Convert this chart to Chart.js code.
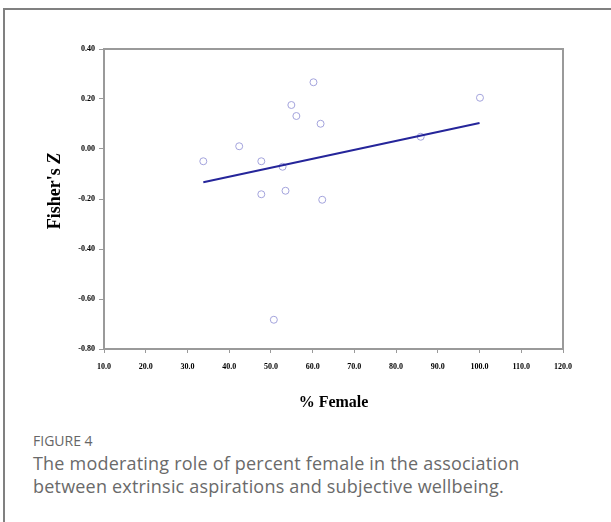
<!DOCTYPE html>
<html>
<head>
<meta charset="utf-8">
<script src="https://cdn.jsdelivr.net/npm/chart.js@4.4.1/dist/chart.umd.min.js"></script>
<style>
  body { margin: 0; background: #fff; width: 611px; height: 522px; overflow: hidden; position: relative; }
  .frame { position: absolute; left: 3px; top: 8px; right: -10px; bottom: -10px;
           border-top: 2px solid #808080; border-left: 2px solid #808080; }
  #wrap { position: absolute; left: 0; top: 0; width: 611px; height: 420px; }
  .cap { position: absolute; left: 33px; top: 430px; font-family: "Open Sans", sans-serif; color: #6a6a6a; }
  .cap .fig { font-size: 14px; color: #666; line-height: 22px; }
  .cap .txt { font-size: 18px; line-height: 23px; letter-spacing: 0.2px; }
</style>
</head>
<body>
<div class="frame"></div>
<div id="wrap"><canvas id="chart" width="611" height="420"></canvas></div>
<div class="cap">
  <div class="fig">FIGURE 4</div>
  <div class="txt">The moderating role of percent female in the association<br>between extrinsic aspirations and subjective wellbeing.</div>
</div>
<script>
// studies: percent female vs Fisher's Z
const femalePct = [33.8, 42.4, 47.7, 47.7, 50.7, 52.8, 53.5, 54.9, 56.1, 60.2, 61.9, 62.3, 85.9, 100.1];
const fisherZ = [-0.049, 0.011, -0.049, -0.181, -0.683, -0.071, -0.167, 0.176, 0.132, 0.267, 0.101, -0.203, 0.049, 0.205];

// regression line endpoints
const fitX = [33.8, 100.0];
const fitZ = [-0.133, 0.104];

const xTitle = '% Female';
const yTitle = "Fisher's ";
const yTitleItalic = 'Z';

const tickFont = { family: '"Liberation Serif", "Times New Roman", serif', size: 8, weight: 'bold' };
const axisGray = '#9a9a9a';

// top and right sides of the plot box + y title
const framePlugin = {
	id: 'framePlugin',
	afterDraw(chart) {
		const { ctx, chartArea: a } = chart;
		ctx.save();
		ctx.strokeStyle = axisGray;
		ctx.lineWidth = 2;
		ctx.beginPath();
		ctx.moveTo(a.left, a.top);
		ctx.lineTo(a.right, a.top);
		ctx.lineTo(a.right, a.bottom);
		ctx.stroke();

		ctx.translate(55, 191);
		ctx.rotate(-Math.PI / 2);
		ctx.fillStyle = '#000';
		ctx.textBaseline = 'middle';
		const f1 = 'bold 18px "Liberation Serif", serif';
		const f2 = 'italic bold 18px "Liberation Serif", serif';
		ctx.font = f1;
		const w1 = ctx.measureText(yTitle).width;
		ctx.font = f2;
		const w2 = ctx.measureText(yTitleItalic).width;
		const x0 = -(w1 + w2) / 2;
		ctx.font = f1;
		ctx.fillText(yTitle, x0, 0);
		ctx.font = f2;
		ctx.fillText(yTitleItalic, x0 + w1, 0);
		ctx.restore();
	}
};

const ctx = document.getElementById('chart').getContext('2d');
const chart = new Chart(ctx, {
	type: 'scatter',
	data: {
		datasets: [{
			label: 'Studies',
			data: femalePct.map((x, i) => ({ x: x, y: fisherZ[i] })),
			pointStyle: 'circle',
			pointRadius: 3.5,
			pointBorderWidth: 1,
			borderColor: '#a3a3dc',
			backgroundColor: 'rgba(0,0,0,0)',
			order: 2
		}, {
			type: 'line',
			label: 'Fit',
			data: fitX.map((x, i) => ({ x: x, y: fitZ[i] })),
			borderColor: '#25259a',
			borderWidth: 2,
			pointRadius: 0,
			fill: false,
			order: 1
		}]
	},
	options: {
		responsive: false,
		animation: false,
		layout: { padding: { left: 0, right: 48, top: 49, bottom: 0 } },
		plugins: {
			legend: { display: false },
			tooltip: { enabled: false }
		},
		scales: {
			x: {
				type: 'linear',
				min: 10,
				max: 120,
				afterFit: (scale) => { scale.height = 71; },
				ticks: {
					stepSize: 10,
					padding: 9,
					color: '#000',
					font: tickFont,
					maxRotation: 0,
					callback: (v) => v.toFixed(1)
				},
				grid: { drawOnChartArea: false, drawTicks: true, tickLength: 4, color: axisGray, lineWidth: 1 },
				border: { display: true, color: axisGray, width: 2 },
				title: {
					display: true,
					text: xTitle,
					color: '#000',
					font: { family: '"Liberation Serif", serif', size: 16, weight: 'bold' },
					padding: { top: 0, bottom: 8 }
				}
			},
			y: {
				min: -0.8,
				max: 0.4,
				afterFit: (scale) => { scale.width = 104; },
				ticks: {
					stepSize: 0.2,
					padding: 4,
					color: '#000',
					font: tickFont,
					callback: (v) => v.toFixed(2)
				},
				grid: { drawOnChartArea: false, drawTicks: true, tickLength: 5, color: axisGray, lineWidth: 1 },
				border: { display: true, color: axisGray, width: 2 }
			}
		}
	},
	plugins: [framePlugin]
});
</script>
</body>
</html>
